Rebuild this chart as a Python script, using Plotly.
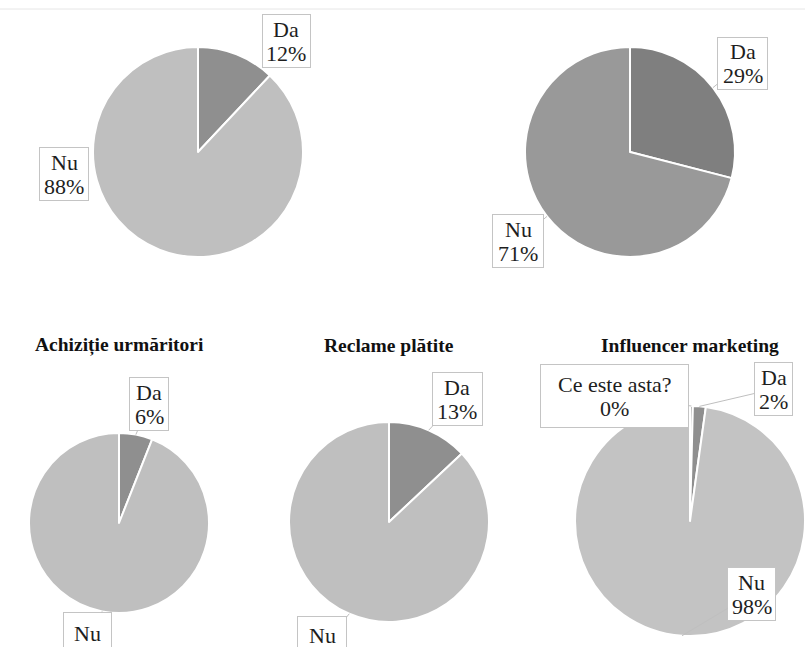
import math
import plotly.graph_objects as go

W, H = 805, 647

# ---- survey answers (percent of respondents) ----
labels_a = ["Da", "Nu"]
values_a = [12, 88]

labels_b = ["Da", "Nu"]
values_b = [29, 71]

titles_bottom = ["Achiziție urmăritori", "Reclame plătite", "Influencer marketing"]

labels_c = ["Da", "Nu"]
values_c = [6, 94]

labels_d = ["Da", "Nu"]
values_d = [13, 87]

labels_e = ["Ce este asta?", "Da", "Nu"]
values_e = [0.4, 1.8, 97.8]

# ---- layout: pie centre/radius (px), colours, label boxes (cx, cy, w, h) ----
pies = [
    dict(labels=labels_a, values=values_a, cx=198, cy=152, r=105,
         colors=["#8f8f8f", "#bfbfbf"],
         boxes=[(286, 41, 47, 52), (64, 174, 48, 52)], pointer=False, title=None),
    dict(labels=labels_b, values=values_b, cx=630, cy=152, r=105,
         colors=["#7f7f7f", "#999999"],
         boxes=[(742.5, 63.5, 49, 51), (518, 241, 50, 52)], pointer=True, title=None),
    dict(labels=labels_c, values=values_c, cx=119, cy=523, r=90,
         colors=["#8f8f8f", "#bfbfbf"],
         boxes=[(149, 404, 38, 52), (87.5, 645, 47, 64)], pointer=True,
         title=titles_bottom[0]),
    dict(labels=labels_d, values=values_d, cx=389, cy=522, r=100,
         colors=["#8f8f8f", "#bfbfbf"],
         boxes=[(457.5, 399, 49, 52), (322, 647, 48, 60)], pointer=True,
         title=titles_bottom[1]),
    dict(labels=labels_e, values=values_e, cx=690, cy=521, r=115,
         colors=["#a5a5a5", "#8f8f8f", "#c3c3c3"],
         boxes=[(614.5, 396, 147, 62), (773.5, 389, 37, 52), (751.5, 594, 47, 52)],
         pointer=True, title=titles_bottom[2]),
]

SERIF = "Liberation Serif"
LABEL_SIZE = 22
LINE_GAP = 12          # half the distance between the two label lines (px)

fig = go.Figure()
annotations = []

for p in pies:
    cx, cy, r = p["cx"], p["cy"], p["r"]
    fig.add_trace(go.Pie(
        labels=p["labels"], values=p["values"],
        sort=False, direction="clockwise", rotation=0,
        marker=dict(colors=p["colors"], line=dict(color="white", width=2)),
        textinfo="none", hoverinfo="label+percent", showlegend=False,
        domain=dict(x=[(cx - r) / W, (cx + r) / W],
                    y=[1 - (cy + r) / H, 1 - (cy - r) / H]),
    ))

    total = sum(p["values"])
    start = 0.0
    for lab, val, (bx, by, bw, bh) in zip(p["labels"], p["values"], p["boxes"]):
        span = val / total * 360.0
        mid = math.radians(start + span / 2)
        start += span
        # point on the rim at the middle of the slice
        axp = cx + r * math.sin(mid)
        ayp = cy - r * math.cos(mid)
        pct = round(val / total * 100)
        px, py = axp / W, 1 - ayp / H

        # callout box with its pointer to the slice
        annotations.append(dict(
            x=px, y=py, xref="paper", yref="paper", text=" ",
            showarrow=True, arrowhead=0, arrowwidth=1, standoff=0,
            arrowcolor="#bfbfbf" if p["pointer"] else "rgba(0,0,0,0)",
            ax=bx - axp, ay=by - ayp,
            width=bw, height=bh,
            bgcolor="white", bordercolor="#c4c4c4", borderwidth=1, borderpad=0,
            font=dict(family=SERIF, size=LABEL_SIZE),
        ))
        # category name and share, one line each
        for txt, dy in ((lab, -LINE_GAP), (f"{pct}%", LINE_GAP)):
            annotations.append(dict(
                x=px, y=py, xref="paper", yref="paper", text=txt,
                showarrow=False, xanchor="center", yanchor="middle",
                xshift=bx - axp, yshift=-(by - ayp) - dy,
                font=dict(family=SERIF, size=LABEL_SIZE, color="#1e1e1e"),
            ))

    if p["title"]:
        annotations.append(dict(
            x=cx / W, y=1 - 345 / H, xref="paper", yref="paper",
            text=f"<b>{p['title']}</b>", showarrow=False,
            xanchor="center", yanchor="middle",
            font=dict(family=SERIF, size=19.5, color="#111111"),
        ))

fig.update_layout(
    width=W, height=H,
    margin=dict(l=0, r=0, t=0, b=0),
    paper_bgcolor="white", plot_bgcolor="white",
    annotations=annotations,
    shapes=[dict(type="line", xref="paper", yref="paper",
                 x0=0, x1=1, y0=1 - 9 / H, y1=1 - 9 / H,
                 line=dict(color="#e6e6e6", width=1))],
)

fig.write_html("out.html")
